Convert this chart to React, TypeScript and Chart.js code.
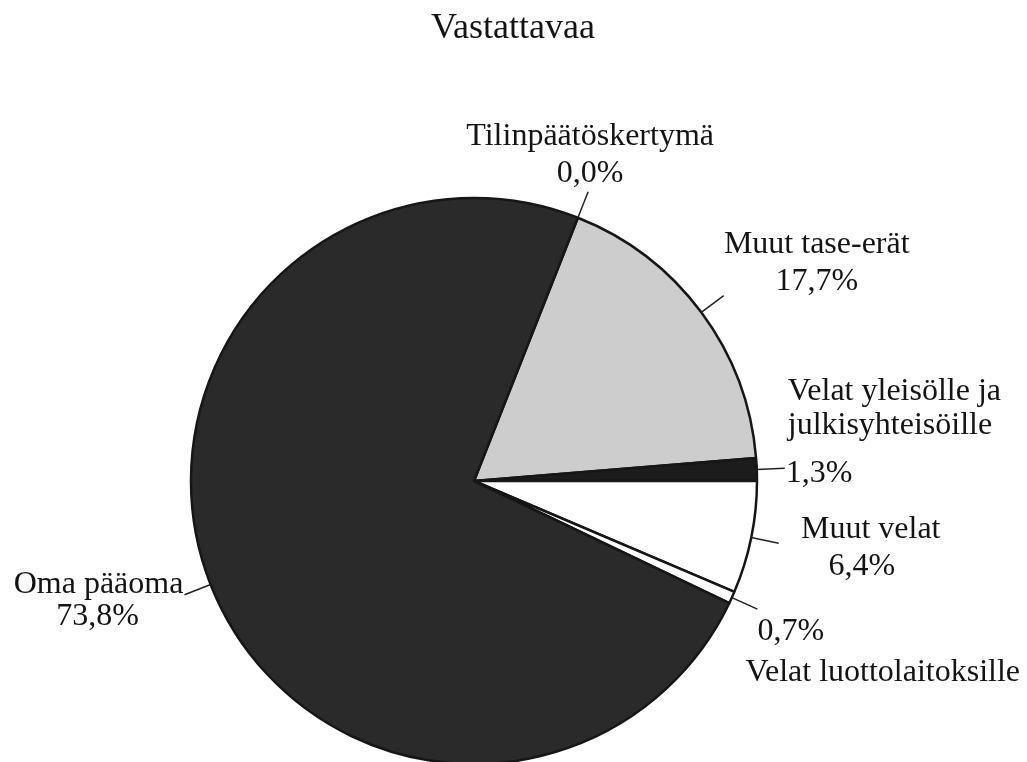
import { useEffect, useRef } from 'react';
import { Chart, registerables } from 'chart.js';

Chart.register(...registerables);

const TITLE = 'Vastattavaa';
const categories = [
  'Tilinpäätöskertymä',
  'Muut tase-erät',
  'Velat yleisölle ja\njulkisyhteisöille',
  'Muut velat',
  'Velat luottolaitoksille',
  'Oma pääoma',
];
const values = [0.0, 17.7, 1.3, 6.4, 0.7, 73.8];
const sliceColors = ['#9a9a9a', '#cdcdcd', '#1c1c1c', '#ffffff', '#ffffff', '#2a2a2a'];

// label placement relative to the end of each radial leader line
type Part = { dx: number; dy: number; align: CanvasTextAlign };
const labelLayout: { name: Part; pct: Part }[] = [
  { name: { dx: 2, dy: -47, align: 'center' }, pct: { dx: 2, dy: -10, align: 'center' } },
  { name: { dx: 93, dy: -43, align: 'center' }, pct: { dx: 93, dy: -6, align: 'center' } },
  { name: { dx: 3, dy: -68, align: 'left' }, pct: { dx: 1, dy: 14, align: 'left' } },
  { name: { dx: 92, dy: -5, align: 'center' }, pct: { dx: 83, dy: 32, align: 'center' } },
  { name: { dx: -12, dy: 72, align: 'left' }, pct: { dx: 0, dy: 31, align: 'left' } },
  { name: { dx: -86, dy: -2, align: 'center' }, pct: { dx: -87, dy: 30, align: 'center' } },
];

const FONT = '"Liberation Serif", "Times New Roman", serif';
const LEADER = 28;
const LINE_H = 34;

const fmtPct = (v: number) => v.toFixed(1).replace('.', ',') + '%';

const labelPlugin = {
  id: 'sliceLabels',
  afterDraw(chart: any) {
    const ctx = chart.ctx as CanvasRenderingContext2D;
    const meta = chart.getDatasetMeta(0);
    ctx.save();
    // title
    ctx.fillStyle = '#141414';
    ctx.font = `36px ${FONT}`;
    ctx.textAlign = 'center';
    ctx.textBaseline = 'alphabetic';
    ctx.fillText(TITLE, 513, 38);

    ctx.font = `32px ${FONT}`;
    meta.data.forEach((arc: any, i: number) => {
      const { x, y, startAngle, endAngle, outerRadius } = arc.getProps(
        ['x', 'y', 'startAngle', 'endAngle', 'outerRadius'],
        true
      );
      const mid = (startAngle + endAngle) / 2;
      const cx = Math.cos(mid);
      const sy = Math.sin(mid);
      const x0 = x + cx * outerRadius;
      const y0 = y + sy * outerRadius;
      const x1 = x + cx * (outerRadius + LEADER);
      const y1 = y + sy * (outerRadius + LEADER);
      ctx.strokeStyle = '#222222';
      ctx.lineWidth = 1.5;
      ctx.beginPath();
      ctx.moveTo(x0, y0);
      ctx.lineTo(x1, y1);
      ctx.stroke();

      const lay = labelLayout[i];
      ctx.fillStyle = '#141414';
      const lines = categories[i].split('\n');
      ctx.textAlign = lay.name.align;
      lines.forEach((ln, k) => {
        ctx.fillText(ln, x1 + lay.name.dx, y1 + lay.name.dy + k * LINE_H);
      });
      ctx.textAlign = lay.pct.align;
      ctx.fillText(fmtPct(values[i]), x1 + lay.pct.dx, y1 + lay.pct.dy);
    });
    ctx.restore();
  },
};

export default function App() {
  const ref = useRef<HTMLCanvasElement | null>(null);
  useEffect(() => {
    if (!ref.current) return;
    const total = values.reduce((a, b) => a + b, 0);
    // the boundary after "Velat yleisölle" sits at 3 o'clock
    const before = values.slice(0, 3).reduce((a, b) => a + b, 0);
    const rotation = 90 - (before / total) * 360;
    const chart = new Chart(ref.current, {
      type: 'pie',
      data: {
        labels: categories,
        datasets: [
          {
            data: values,
            backgroundColor: sliceColors,
            borderColor: '#161616',
            borderWidth: 2.5,
            radius: 283,
            clip: false,
          } as any,
        ],
      },
      options: {
        animation: false,
        responsive: false,
        rotation,
        layout: { padding: { left: 191, right: 270, top: 200, bottom: 0 } },
        plugins: {
          legend: { display: false },
          tooltip: { enabled: false },
          title: { display: false },
        },
      },
      plugins: [labelPlugin],
    });
    return () => chart.destroy();
  }, []);

  return (
    <div style={{ position: 'fixed', left: 0, top: 0, width: 1027, height: 762, background: '#ffffff' }}>
      <canvas ref={ref} width={1027} height={762} />
    </div>
  );
}
